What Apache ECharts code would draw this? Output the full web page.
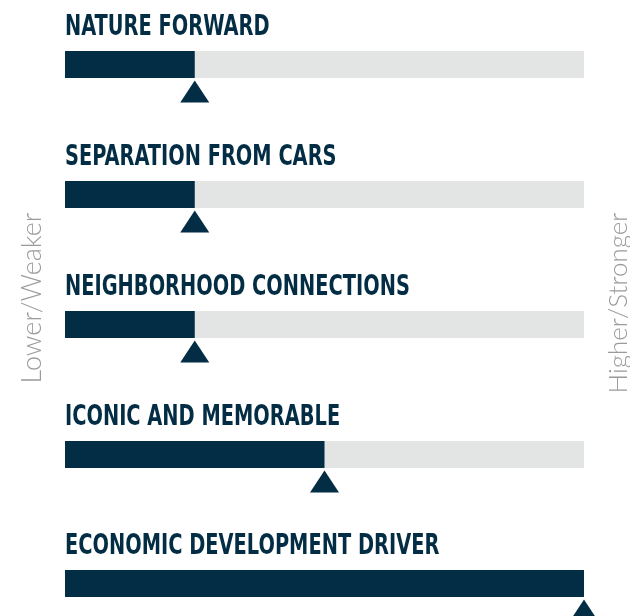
<!DOCTYPE html>
<html>
<head>
<meta charset="utf-8">
<script src="https://cdn.jsdelivr.net/npm/echarts@6/dist/echarts.min.js"></script>
<style>
  html, body { margin: 0; padding: 0; background: #fff; }
  #chart { width: 630px; height: 616px; }
</style>
</head>
<body>
<div id="chart"></div>
<script>
// Scorecard: five criteria rated on a 0-4 scale
var categories = ['NATURE FORWARD', 'SEPARATION FROM CARS', 'NEIGHBORHOOD CONNECTIONS', 'ICONIC AND MEMORABLE', 'ECONOMIC DEVELOPMENT DRIVER'];
var scores = [1, 1, 1, 2, 4];
var scaleMax = 4;
var lowLabel = 'Lower/Weaker';
var highLabel = 'Higher/Stronger';

(function() {
  var navy = '#032d44';
  var track = '#e3e5e4';
  var muted = '#9b9b9b';
  var titleFont = "'Liberation Sans Narrow', 'DejaVu Sans Condensed', 'Roboto', sans-serif";
  var sideFont = "'Lato', 'Open Sans', sans-serif";

  var rowTop = [51, 181, 311, 441, 570];
  var barH = 27;

  var grids = [], xAxes = [], yAxes = [], series = [], graphics = [];

  categories.forEach(function(name, i) {
    grids.push({ left: 65, right: 46, top: rowTop[i], height: barH });
    xAxes.push({ gridIndex: i, type: 'value', min: 0, max: scaleMax, show: false });
    yAxes.push({ gridIndex: i, type: 'category', data: [name], show: false });

    // 标题用横向压缩模拟窄体字
    graphics.push({
      type: 'text',
      x: 65,
      y: rowTop[i] - 23,
      scaleX: 0.77,
      style: {
        text: name, fill: navy, fontSize: 28, fontWeight: 'bold',
        fontFamily: titleFont, align: 'left', verticalAlign: 'middle'
      }
    });

    series.push({
      type: 'bar',
      xAxisIndex: i,
      yAxisIndex: i,
      barWidth: barH,
      data: [scores[i]],
      itemStyle: { color: navy },
      showBackground: true,
      backgroundStyle: { color: track, opacity: 1 },
      silent: true
    });
    series.push({
      type: 'scatter',
      xAxisIndex: i,
      yAxisIndex: i,
      clip: false,
      symbol: 'triangle',
      symbolSize: [29, 22],
      symbolOffset: [0, 27],
      itemStyle: { color: navy, opacity: 1 },
      data: [[scores[i], name]],
      z: 5,
      silent: true
    });
  });

  graphics.push({
    type: 'text',
    x: 32, y: 298,
    rotation: Math.PI / 2,
    style: {
      text: lowLabel, fill: muted, fontSize: 27, fontWeight: 300,
      fontFamily: sideFont, align: 'center', verticalAlign: 'middle'
    }
  });
  graphics.push({
    type: 'text',
    x: 619, y: 303,
    rotation: Math.PI / 2,
    style: {
      text: highLabel, fill: muted, fontSize: 26, fontWeight: 300,
      fontFamily: sideFont, align: 'center', verticalAlign: 'middle'
    }
  });

  var chart = echarts.init(document.getElementById('chart'));
  chart.setOption({
    animation: false,
    grid: grids,
    xAxis: xAxes,
    yAxis: yAxes,
    series: series,
    graphic: graphics
  });
})();
</script>
</body>
</html>
